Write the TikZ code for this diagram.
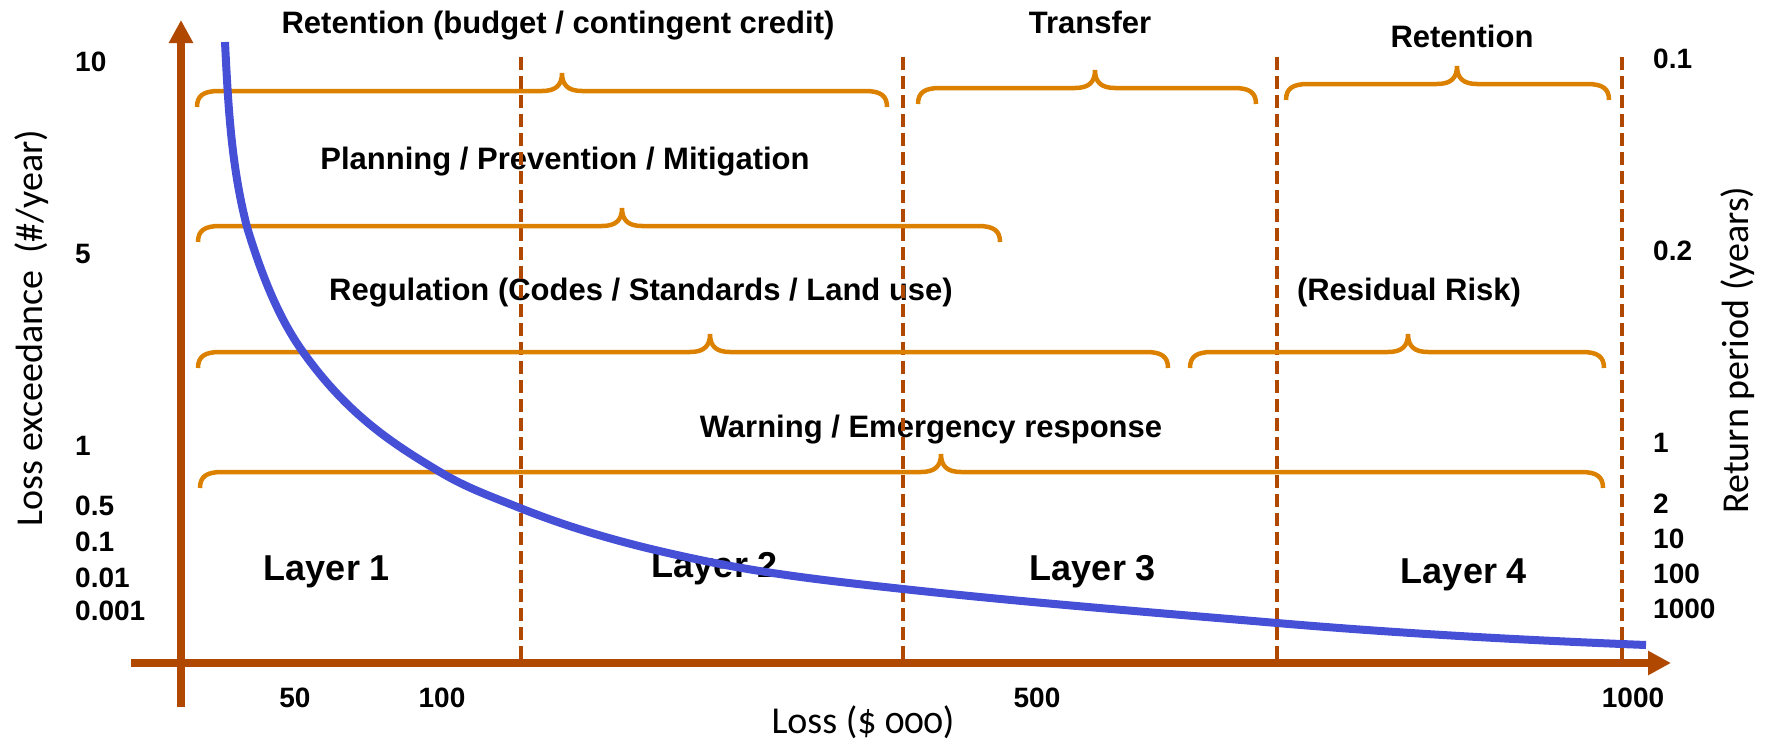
\documentclass[tikz,border=0pt]{standalone}
\usepackage{fontspec}
\setmainfont{Liberation Sans}
\newfontfamily\axfont[Numbers=OldStyle]{Carlito}
\usetikzlibrary{arrows.meta}
\definecolor{axbrown}{RGB}{176,72,0}
\definecolor{brorange}{RGB}{220,128,0}
\definecolor{lossblue}{RGB}{70,80,215}
\tikzset{lbl/.style={
    font=\fontsize{31}{36}\selectfont\bfseries,
    anchor=base,
    inner sep=0
  },
  layerlbl/.style={lbl,font=\fontsize{36}{42}\selectfont\bfseries},
  ticklbl/.style={font=\fontsize{28}{32}\selectfont\bfseries,anchor=base west,inner sep=0},
  xticklbl/.style={ticklbl,anchor=base},
  axtitle/.style={font=\fontsize{38}{44}\selectfont\axfont,inner sep=0},
  axline/.style={draw=axbrown,line width=8pt,-{Triangle[length=23pt,width=23pt]}},
  divline/.style={draw=axbrown,line width=4.5pt,dash pattern=on 13pt off 6pt},
  brc/.style={draw=brorange,line width=4.5pt},
  losscurve/.style={draw=lossblue,line width=8pt},
}
% left end, cusp, right end, height of the bar
\newcommand{\respbrace}[4]{%
  \draw[brc] (#1,#4+16) .. controls (#1,#4+5) and (#1+6,#4) .. (#1+22,#4)
    -- (#2-20,#4) .. controls (#2-6,#4) and (#2,#4-6) .. (#2,#4-18)
    .. controls (#2,#4-6) and (#2+6,#4) .. (#2+20,#4)
    -- (#3-22,#4) .. controls (#3-6,#4) and (#3,#4+5) .. (#3,#4+16);}

\begin{document}
\begin{tikzpicture}[x=1pt,y=-1pt]
  \useasboundingbox (0,0) rectangle (1766,744);

  % measures
  \node [lbl] (keep1) at (558,33) {Retention (budget / contingent credit)};
  \node [lbl] (transfer) at (1090,33) {Transfer};
  \node [lbl] (keep2) at (1462,47) {Retention};
  \node [lbl] (plan) at (565,169) {Planning / Prevention / Mitigation};
  \node [lbl] (regul) at (641,300) {Regulation (Codes / Standards / Land use)};
  \node [lbl] (resid) at (1409,300) {(Residual Risk)};
  \node [lbl] (warn) at (931,437) {Warning / Emergency response};

  \node [layerlbl] (layer1) at (327,580) {Layer 1};
  \node [layerlbl] (layer2) at (715,577) {Layer 2};
  \node [layerlbl] (layer3) at (1093,580) {Layer 3};
  \node [layerlbl] (layer4) at (1464,583) {Layer 4};

  % left scale
  \node [ticklbl] (lf10) at (75,71) {10};
  \node [ticklbl] (lf5) at (75,263) {5};
  \node [ticklbl] (lf1) at (75,455) {1};
  \node [ticklbl] (lf05) at (75,515) {0.5};
  \node [ticklbl] (lf01) at (75,551) {0.1};
  \node [ticklbl] (lf001) at (75,587) {0.01};
  \node [ticklbl] (lf0001) at (75,620) {0.001};

  % right scale
  \node [ticklbl] (rp01) at (1653,68) {0.1};
  \node [ticklbl] (rp02) at (1653,260) {0.2};
  \node [ticklbl] (rp1) at (1653,452) {1};
  \node [ticklbl] (rp2) at (1653,513) {2};
  \node [ticklbl] (rp10) at (1653,548) {10};
  \node [ticklbl] (rp100) at (1653,583) {100};
  \node [ticklbl] (rp1000) at (1653,618) {1000};

  % loss scale
  \node [xticklbl] (ls50) at (295,707) {50};
  \node [xticklbl] (ls100) at (442,707) {100};
  \node [xticklbl] (ls500) at (1037,707) {500};
  \node [xticklbl] (ls1000) at (1633,707) {1000};

  \node [axtitle,rotate=90] (ytitle) at (32,328) {Loss exceedance\ \ (\#/year)};
  \node [axtitle,rotate=90] (rtitle) at (1738,350) {Return period (years)};
  \node [axtitle,anchor=base] (xtitle) at (863,733) {Loss (\$ 000)};

  % layer limits
  \draw[divline] (521,57) -- (521,663);
  \draw[divline] (903,57) -- (903,663);
  \draw[divline] (1277,57) -- (1277,663);
  \draw[divline] (1622,57) -- (1622,663);

  \respbrace{197}{562}{887}{91}
  \respbrace{918}{1095}{1256}{88}
  \respbrace{1286}{1457}{1609}{84}
  \respbrace{198}{622}{1000}{226}
  \respbrace{198}{710}{1168}{352}
  \respbrace{1190}{1408}{1604}{352}
  \respbrace{200}{941}{1603}{472}

  % exceedance curve
  \draw[losscurve] (225,42) .. controls (228.1,103.7) and (231,165.3) .. (247,227)
    .. controls (265.7,289) and (284.3,326) .. (303,352)
    .. controls (348.7,416) and (394.3,444.6) .. (440,472)
    .. controls (466.7,488) and (493.3,497.3) .. (520,508)
    .. controls (585,534) and (650,550) .. (715,563)
    .. controls (777.7,575.5) and (840.3,582.1) .. (903,589)
    .. controls (1027.7,602.7) and (1152.3,612.4) .. (1277,623)
    .. controls (1400,633.5) and (1523,640.1) .. (1646,645);

  % axes
  \coordinate (ybot) at (181,707);
  \coordinate (ytop) at (181,20);
  \coordinate (xleft) at (131,663);
  \coordinate (xright) at (1671,663);
  \draw[axline] (ybot) -- (ytop);
  \draw[axline] (xleft) -- (xright);
\end{tikzpicture}
\end{document}
